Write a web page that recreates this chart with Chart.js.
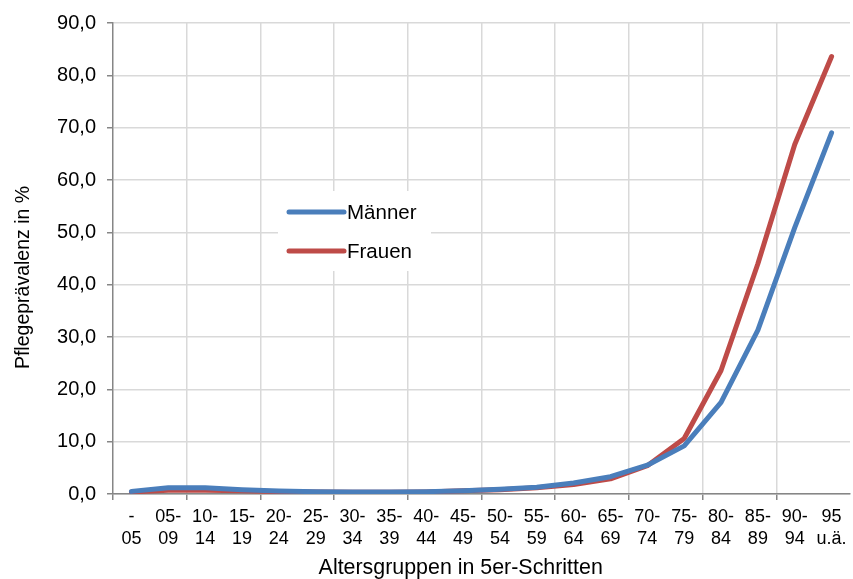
<!DOCTYPE html>
<html>
<head>
<meta charset="utf-8">
<script src="https://cdn.jsdelivr.net/npm/chart.js@4/dist/chart.umd.min.js"></script>
<style>
  html, body { margin: 0; padding: 0; background: #fff; }
  #wrap { position: relative; width: 853px; height: 579px; }
</style>
</head>
<body>
<div id="wrap"><canvas id="c" width="853" height="579"></canvas></div>
<script>
const categories = [
  ["-", "05"], ["05-", "09"], ["10-", "14"], ["15-", "19"], ["20-", "24"],
  ["25-", "29"], ["30-", "34"], ["35-", "39"], ["40-", "44"], ["45-", "49"],
  ["50-", "54"], ["55-", "59"], ["60-", "64"], ["65-", "69"], ["70-", "74"],
  ["75-", "79"], ["80-", "84"], ["85-", "89"], ["90-", "94"], ["95", "u.ä."]
];
const maenner = [0.5, 1.2, 1.2, 0.8, 0.55, 0.45, 0.4, 0.4, 0.45, 0.6, 0.9, 1.3, 2.1, 3.3, 5.5, 9.2, 17.5, 31.3, 50.9, 69.0];
const frauen  = [0.4, 0.7, 0.7, 0.6, 0.45, 0.4, 0.35, 0.35, 0.4, 0.6, 0.8, 1.2, 1.8, 2.9, 5.4, 10.6, 23.6, 44.0, 66.8, 83.6];
const yTicks = { min: 0, max: 90, step: 10 };
const xTitle = "Altersgruppen in 5er-Schritten";
const yTitle = "Pflegeprävalenz in %";

const FONT = "'Liberation Sans', Arial, sans-serif";
const AXIS = '#868686';
const GRID = '#d9d9d9';
const NB = '\u00a0\u00a0\u00a0\u00a0\u00a0\u00a0\u00a0';

const legendPlugin = {
  id: 'innerLegend',
  afterDraw(chart) {
    const ctx = chart.ctx;
    const a = chart.chartArea;
    const bx = a.left + 165, by = a.top + 168, bw = 153, bh = 80;
    ctx.save();
    ctx.fillStyle = '#fff';
    ctx.fillRect(bx, by, bw, bh);
    chart.data.datasets.forEach((ds, i) => {
      const y = by + 21 + i * 39;
      ctx.strokeStyle = ds.borderColor;
      ctx.lineWidth = 5;
      ctx.lineCap = 'round';
      ctx.beginPath();
      ctx.moveTo(bx + 11, y);
      ctx.lineTo(bx + 66, y);
      ctx.stroke();
      ctx.fillStyle = '#000';
      ctx.font = '20.5px ' + FONT;
      ctx.textBaseline = 'middle';
      ctx.textAlign = 'left';
      ctx.fillText(ds.label, bx + 69, y + 1);
    });
    ctx.restore();
  }
};

new Chart(document.getElementById('c'), {
  type: 'line',
  data: {
    labels: categories,
    datasets: [
      { label: 'Männer', data: maenner, borderColor: '#4a7ebb', backgroundColor: '#4a7ebb',
        borderWidth: 5, pointRadius: 0, tension: 0, borderCapStyle: 'round', borderJoinStyle: 'round' },
      { label: 'Frauen', data: frauen, borderColor: '#be4b48', backgroundColor: '#be4b48',
        borderWidth: 5, pointRadius: 0, tension: 0, borderCapStyle: 'round', borderJoinStyle: 'round' }
    ]
  },
  options: {
    responsive: false,
    animation: false,
    devicePixelRatio: 1,
    layout: { padding: { top: 20, right: 3, left: 0, bottom: 0 } },
    plugins: { legend: { display: false }, tooltip: { enabled: false } },
    scales: {
      x: {
        offset: true,
        grid: {
          offset: true,
          drawTicks: true,
          tickLength: 6,
          color: (c) => (c.index % 2 === 0 && c.index > 0 && c.index < 20) ? GRID : 'rgba(0,0,0,0)',
          tickColor: (c) => (c.index % 2 === 0 && c.index < 20) ? AXIS : 'rgba(0,0,0,0)',
          lineWidth: 1.5
        },
        border: { color: AXIS, width: 1.5 },
        ticks: { autoSkip: false, maxRotation: 0, minRotation: 0, padding: 6, color: '#000',
          font: { family: FONT, size: 18, lineHeight: 1.21 } },
        title: { display: true, text: xTitle + NB, color: '#000',
          font: { family: FONT, size: 21.4, lineHeight: 1 },
          padding: { top: 0, bottom: 0 } },
        afterFit: (s) => { s.height = 85; }
      },
      y: {
        min: yTicks.min, max: yTicks.max,
        grid: { color: GRID, tickColor: AXIS, tickLength: 6, lineWidth: 1.5 },
        border: { color: AXIS, width: 1.5 },
        ticks: { stepSize: yTicks.step, padding: 11, color: '#000',
          font: { family: FONT, size: 20 },
          callback: (v) => v.toFixed(1).replace('.', ',') },
        title: { display: true, text: yTitle + NB, color: '#000',
          font: { family: FONT, size: 19.5 },
          padding: { top: 12, bottom: 0 } },
        afterFit: (s) => { s.width = 113; }
      }
    }
  },
  plugins: [legendPlugin]
});
</script>
</body>
</html>
